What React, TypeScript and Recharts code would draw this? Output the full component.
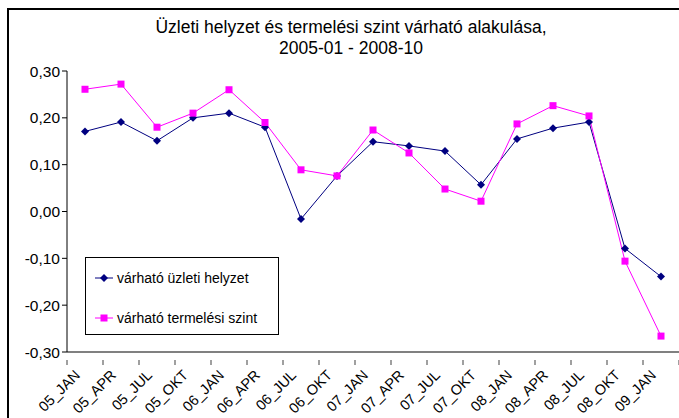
import React from "react";
import { LineChart, Line, XAxis, YAxis } from "recharts";

const periods = [
  "05_JAN", "05_APR", "05_JUL", "05_OKT", "06_JAN", "06_APR", "06_JUL", "06_OKT",
  "07_JAN", "07_APR", "07_JUL", "07_OKT", "08_JAN", "08_APR", "08_JUL", "08_OKT", "09_JAN",
];
const uzletiHelyzet = [
  0.171, 0.191, 0.151, 0.2, 0.21, 0.18, -0.016, 0.076, 0.149, 0.14, 0.129, 0.057,
  0.155, 0.178, 0.191, -0.079, -0.139,
];
const termelesiSzint = [
  0.261, 0.272, 0.18, 0.21, 0.26, 0.19, 0.089, 0.076, 0.174, 0.125, 0.048, 0.022,
  0.187, 0.226, 0.204, -0.106, -0.266,
];
const yTicks = [-0.3, -0.2, -0.1, 0, 0.1, 0.2, 0.3];

const data = periods.map((p, i) => ({
  period: p,
  uzleti: uzletiHelyzet[i],
  termelesi: termelesiSzint[i],
}));

const FONT = "'Liberation Sans', Arial, sans-serif";
const BLUE = "#000080";
const PINK = "#FF00FF";

const Diamond = (props: any) => {
  const { cx, cy } = props;
  if (cx == null || cy == null) return null;
  return <path d={`M${cx},${cy - 4}L${cx + 4},${cy}L${cx},${cy + 4}L${cx - 4},${cy}Z`} fill={BLUE} />;
};

const Square = (props: any) => {
  const { cx, cy } = props;
  if (cx == null || cy == null) return null;
  return <rect x={cx - 3.5} y={cy - 3.5} width={7} height={7} fill={PINK} />;
};

// category labels sit under the band centre, tick marks on the band edges
const XTick = (props: any) => {
  const { x, y, payload, index } = props;
  const half = 18;
  const tx = x - 4;
  const ty = y + 16;
  return (
    <g>
      <line x1={x - half} y1={y} x2={x - half} y2={y + 5} stroke="#808080" strokeWidth={1.5} />
      {index === periods.length - 1 && (
        <line x1={x + half} y1={y} x2={x + half} y2={y + 5} stroke="#808080" strokeWidth={1.5} />
      )}
      <text
        x={tx}
        y={ty}
        textAnchor="end"
        fontSize={14.5}
        fontFamily={FONT}
        fill="#000"
        transform={`rotate(-45 ${tx} ${ty})`}
      >
        {payload.value}
      </text>
    </g>
  );
};

const LegendBox = () => (
  <svg width={194} height={78} style={{ position: "absolute", left: 85, top: 257 }}>
    <rect x={0.5} y={0.5} width={193} height={77} fill="#fff" stroke="#000" />
    <line x1={10} y1={21} x2={28} y2={21} stroke={BLUE} strokeWidth={1} />
    <Diamond cx={19} cy={21} />
    <line x1={10} y1={61} x2={28} y2={61} stroke={PINK} strokeWidth={1} />
    <Square cx={19} cy={61} />
    <text x={32} y={26} fontSize={14} fontFamily={FONT} fill="#000">várható üzleti helyzet</text>
    <text x={32} y={66} fontSize={14} fontFamily={FONT} fill="#000">várható termelési szint</text>
  </svg>
);

export default function App() {
  return (
    <div style={{ position: "absolute", left: 0, top: 0, width: 679, height: 418, background: "#fff", overflow: "hidden" }}>
      <div
        style={{
          position: "absolute",
          left: 7,
          top: 8,
          width: 700,
          height: 430,
          borderLeft: "2px solid #000",
          borderTop: "2px solid #000",
        }}
      />
      <div
        style={{
          position: "absolute",
          left: 0,
          top: 17,
          width: 702,
          textAlign: "center",
          fontFamily: FONT,
          fontSize: 17.5,
          lineHeight: "21px",
          color: "#000",
        }}
      >
        Üzleti helyzet és termelési szint várható alakulása,
        <br />
        2005-01 - 2008-10
      </div>
      <div style={{ position: "absolute", left: 0, top: 0 }}>
        <LineChart width={679} height={418} data={data} margin={{ top: 71, right: 0, bottom: 0, left: 0 }}>
          <XAxis
            dataKey="period"
            padding={{ left: 18, right: 18 }}
            axisLine={{ stroke: "#808080", strokeWidth: 2 }}
            tickLine={false}
            tick={<XTick />}
            interval={0}
            height={66}
          />
          <YAxis
            domain={[-0.3, 0.3]}
            ticks={yTicks}
            width={67}
            axisLine={{ stroke: "#000", strokeWidth: 1 }}
            tickLine={{ stroke: "#000" }}
            tickSize={5}
            tick={{ fontSize: 15.5, fontFamily: FONT, fill: "#000" }}
            tickFormatter={(v: number) => v.toFixed(2).replace(".", ",")}
          />
          <Line
            dataKey="uzleti"
            name="várható üzleti helyzet"
            stroke={BLUE}
            strokeWidth={1}
            dot={<Diamond />}
            activeDot={false}
            isAnimationActive={false}
          />
          <Line
            dataKey="termelesi"
            name="várható termelési szint"
            stroke={PINK}
            strokeWidth={1}
            dot={<Square />}
            activeDot={false}
            isAnimationActive={false}
          />
        </LineChart>
      </div>
      <LegendBox />
    </div>
  );
}
